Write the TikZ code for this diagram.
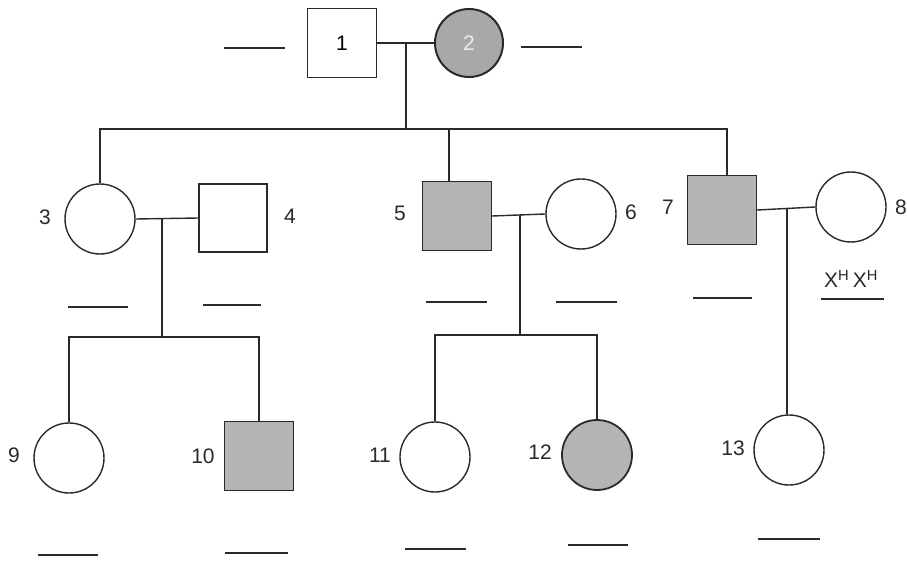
\documentclass[tikz,border=0pt]{standalone}
\usepackage{fontspec}
\setmainfont{Liberation Sans}
\definecolor{aff}{HTML}{B4B4B4}
\definecolor{aff2}{HTML}{A8A8A8}
\definecolor{ink}{HTML}{2A2A2A}
\begin{document}
\begin{tikzpicture}[x=1pt,y=-1pt,
  line width=1.4pt, draw=ink,
  male/.style={draw=ink,rectangle,minimum size=69pt,inner sep=0pt,line width=1.4pt,font=\fontsize{21}{21}\selectfont},
  female/.style={draw=ink,circle,minimum size=70pt,inner sep=0pt,line width=1.4pt,font=\fontsize{21}{21}\selectfont},
  affected/.style={fill=aff},
  lbl/.style={font=\fontsize{21}{21}\selectfont,text=ink,inner sep=0pt},
  link/.style={draw=ink,line width=1.4pt},
  blank/.style={draw=ink,line width=1.6pt}]
\clip (0,0) rectangle (907,561);
\fill[white] (0,0) rectangle (907,561);

% generation I
\node[male] (n1) at (342,43) {1};
\node[female,fill=aff2,line width=2pt,minimum size=68pt] (n2) at (469,43) {\textcolor{white!85!gray}{2}};

% generation II
\node[female] (n3) at (100,219) {};
\node[male,minimum size=68pt] (n4) at (233,218) {};
\node[male,affected] (n5) at (457,216) {};
\node[female] (n6) at (581,214) {};
\node[male,affected] (n7) at (722,210) {};
\node[female] (n8) at (851,207) {};

% generation III
\node[female] (n9) at (69,458) {};
\node[male,affected] (n10) at (259,456) {};
\node[female] (n11) at (435,457) {};
\node[female,affected,line width=1.8pt] (n12) at (597,455) {};
\node[female] (n13) at (789,450) {};

% labels
\node[lbl] (l3) at (45,217) {3};
\node[lbl] (l4) at (290,216) {4};
\node[lbl] (l5) at (400,213) {5};
\node[lbl] (l6) at (631,212) {6};
\node[lbl] (l7) at (668,207) {7};
\node[lbl] (l8) at (901,207) {8};
\node[lbl] (l9) at (14,455) {9};
\node[lbl] (l10) at (203,456) {10};
\node[lbl] (l11) at (380,455) {11};
\node[lbl] (l12) at (540,452) {12};
\node[lbl] (l13) at (733,448) {13};
\node[lbl] (g8) at (851,279) {X\textsuperscript{H}\,X\textsuperscript{H}};

% connector coordinates
\coordinate (m12) at (406,43);
\coordinate (s1) at (406,129);
\coordinate (m34) at (162,218);
\coordinate (s2) at (162,337);
\coordinate (m56) at (520,215);
\coordinate (s3) at (520,335);
\coordinate (m78) at (787,208);

% generation I couple and sibship
\draw[link] (n1.east) -- (n2.west);
\draw[link] (m12) -- (s1);
\draw[link] (n3.north) |- (s1) -| ([xshift=5pt]n7.north);
\draw[link] ([xshift=-8pt]n5.north) -- ([xshift=-8pt]n5.north |- s1);

% 3 x 4
\draw[link] (n3.east) -- (n4.west);
\draw[link] (m34) -- (s2);
\draw[link] (n9.north) |- (s2) -| (n10.north);

% 5 x 6
\draw[link] (n5.east) -- (n6.west);
\draw[link] (m56) -- (s3);
\draw[link] (n11.north) |- (s3) -| (n12.north);

% 7 x 8
\draw[link] (n7.east) -- (n8.west);
\draw[link] (m78) -- (m78 |- n13.north);

% genotype blanks
\draw[blank] (224,48) -- (285,48);
\draw[blank] (521,47) -- (582,47);
\draw[blank] (68,307) -- (128,307);
\draw[blank] (203,305) -- (261,305);
\draw[blank] (426,302) -- (487,302);
\draw[blank] (556,302) -- (617,302);
\draw[blank] (693,298) -- (752,298);
\draw[blank] (821,299) -- (884,299);
\draw[blank] (38,555) -- (98,555);
\draw[blank] (225,553) -- (288,553);
\draw[blank] (405,549) -- (466,549);
\draw[blank] (568,545) -- (628,545);
\draw[blank] (758,539) -- (820,539);
\end{tikzpicture}
\end{document}
